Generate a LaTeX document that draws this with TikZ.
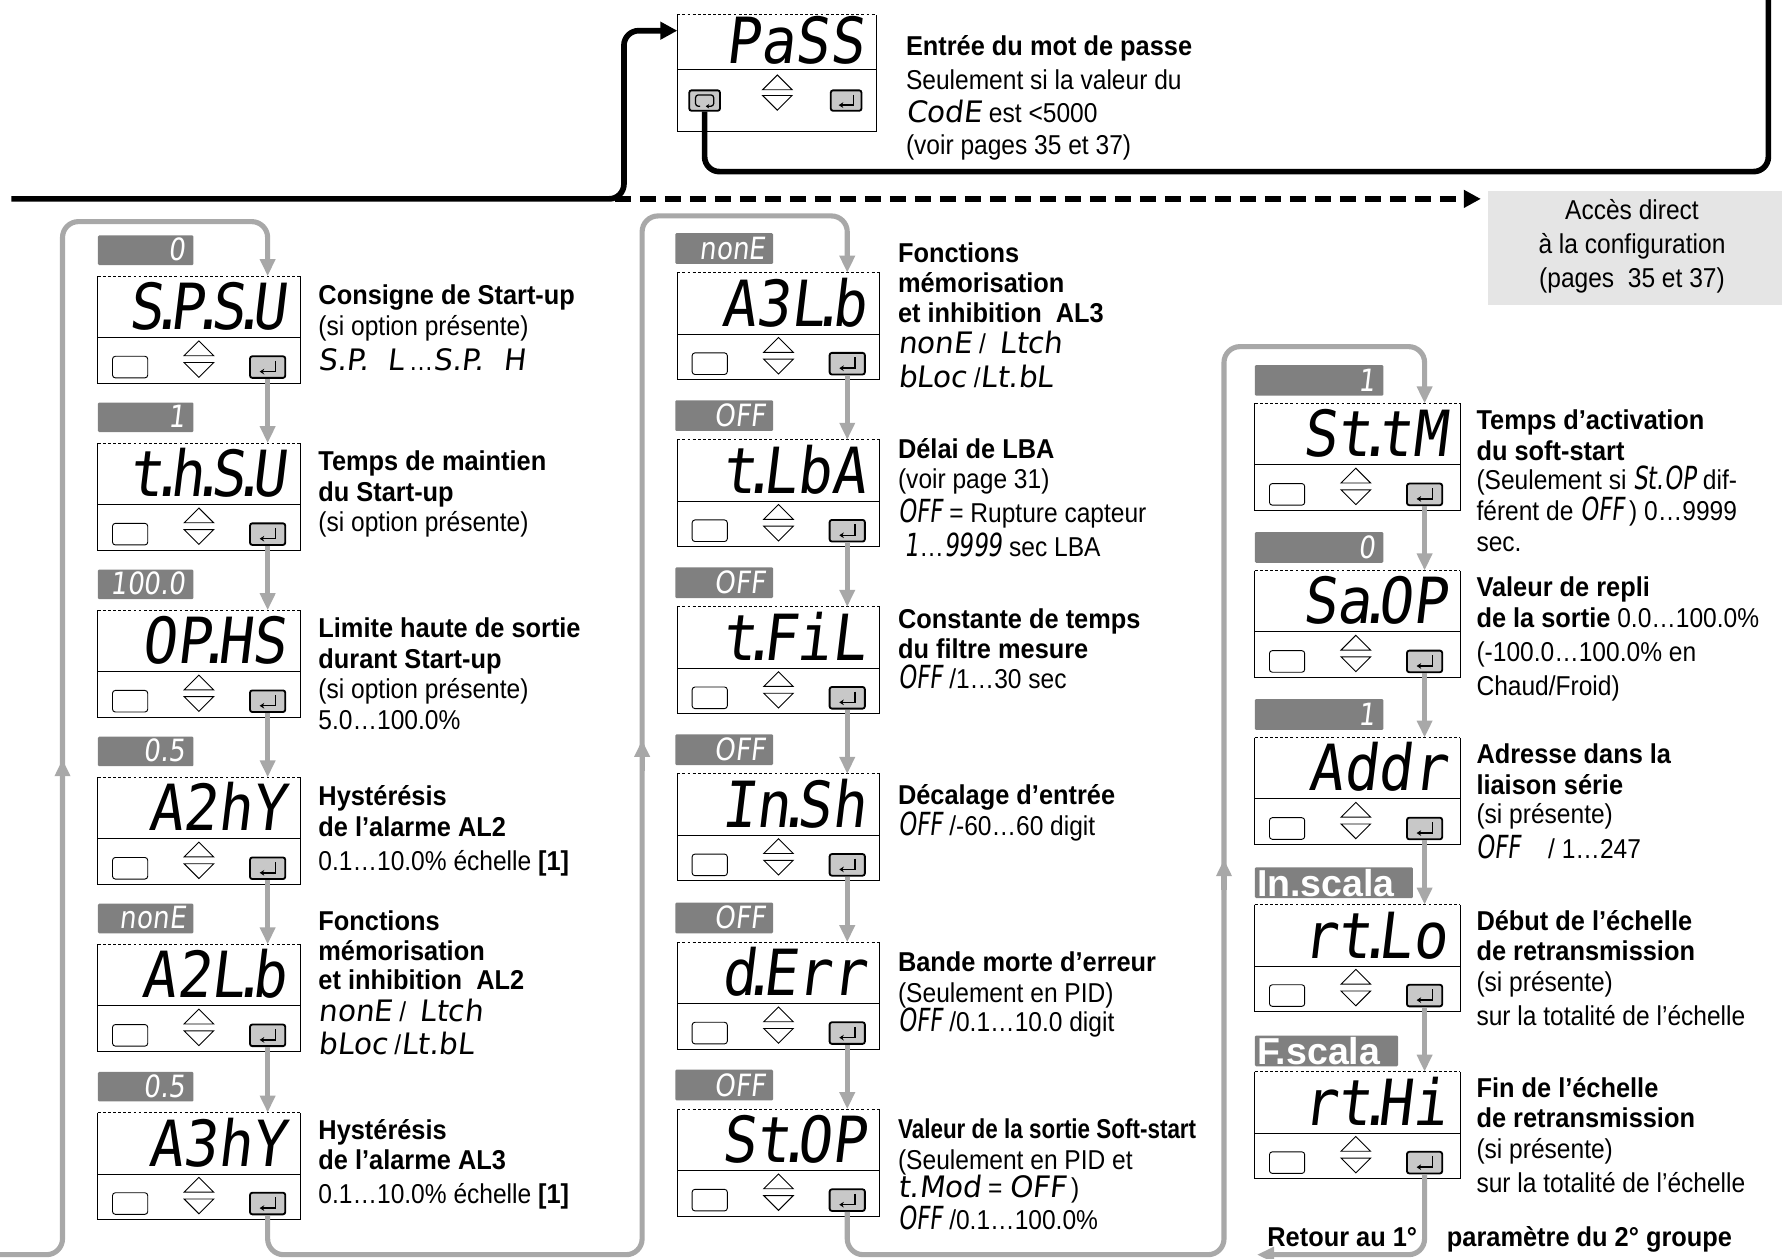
\documentclass[tikz,border=0pt]{standalone}
\usepackage{fontspec}
\usepackage{graphicx}
\setmainfont{Liberation Sans}[FakeStretch=0.9]
\newfontfamily\bdf{Liberation Sans}[FakeStretch=0.93]
\newfontfamily\arb{Liberation Sans}
\newfontfamily\segf{DejaVu Sans Mono}[FakeSlant=0.12,FakeStretch=0.9]
\newfontfamily\segt{DejaVu Sans}[FakeSlant=0.12,FakeStretch=0.85]
\newfontfamily\segn{DejaVu Sans}[FakeSlant=0.12,FakeStretch=0.72]
\newfontfamily\segw{DejaVu Sans}[FakeSlant=0.12]
\usetikzlibrary{arrows.meta,calc}
\definecolor{gl}{RGB}{168,168,168}
\definecolor{tg}{RGB}{128,128,128}
\definecolor{eb}{RGB}{200,200,200}
\definecolor{ab}{RGB}{229,229,229}
\newcommand\sdot{\kern-0.22em.\kern-0.22em}
\newcommand\B[1]{{\bdf\bfseries #1}}
\newcommand\SN[1]{{\segn\fontsize{28}{28}\selectfont #1}}
\newcommand\SW[1]{{\segw\fontsize{26}{26}\selectfont #1}}
\tikzset{
 pline/.style={line width=0.8pt, black},
 ebtn/.style={draw, rounded corners=2pt, minimum width=31pt, minimum height=19pt, inner sep=0pt, line width=1.6pt, fill=eb},
 lbtn/.style={draw, rounded corners=2.5pt, minimum width=31pt, minimum height=19pt, inner sep=0pt, line width=0.8pt, fill=white},
 entsym/.style={line width=1.3pt, -{Stealth[length=4pt,width=5pt]}},
 disp/.style={anchor=base east, inner sep=0pt, font=\segf\fontsize{56}{56}\selectfont},
 tagb/.style={fill=tg, inner sep=0pt, rounded corners=1pt},
 tagt/.style={anchor=base east, inner sep=0pt, text=white, font=\segt\fontsize{27}{27}\selectfont},
 desc/.style={anchor=base west, inner sep=0pt, font=\fontsize{24}{27}\selectfont},
 gc/.style={line width=4.5pt, draw=gl, rounded corners=14pt},
 gar/.style={gc, -{Triangle[length=15pt,width=13pt]}},
 bc/.style={line width=5pt, draw=black, rounded corners=13pt},
 bar/.style={bc, -{Triangle[length=15pt,width=15pt]}},
}
\newcommand\panel[5]{%
\begin{scope}[shift={(#2,#3)}]
\node[inner sep=0pt, minimum width=#4pt, minimum height=94pt, anchor=north west] (#1) at (0,0) {};
\draw[pline] (0,0) -- (0,94) -- (#4,94) -- (#4,0);
\draw[pline, dash pattern=on 2.5pt off 2pt] (0,0) -- (#4,0);
\draw[pline] (0,54) -- (#4,54);
\node[disp] (#1-d) at (#4-12,47) {#5};
\node[lbtn] (#1-l) at (28.5,80) {};
\draw[pline, fill=white] (76,70) -- (89,57) -- (102,70) -- cycle;
\draw[pline, fill=white] (76,76) -- (89,89) -- (102,76) -- cycle;
\node[ebtn] (#1-e) at (149.5,80) {};
\draw[entsym] (156.5,74.5) -- (156.5,84) -- (142.5,84);
\end{scope}}
\newcommand\vtag[6]{%
\node[tagb, minimum width=#4pt, minimum height=#5pt, anchor=north west] (#1) at (#2,#3) {};
\node[tagt] (#1-t) at ($(#1.south east)+(-7,-4)$) {#6};}
\newcommand\dline[4]{\node[desc] (#1) at (#2,#3) {#4};}
\begin{document}
\begin{tikzpicture}[x=1pt,y=-1pt]
\useasboundingbox (0,0) rectangle (1568,1107);
\fill[white] (0,0) rectangle (1568,1107);

% ---------- PASS panel ----------
\begin{scope}[shift={(596,13)}]
\node[inner sep=0pt, minimum width=175pt, minimum height=103pt, anchor=north west] (pass) at (0,0) {};
\draw[pline] (0,0) -- (0,103) -- (175,103) -- (175,0);
\draw[pline, dash pattern=on 2.5pt off 2pt] (0,0) -- (175,0);
\draw[pline] (0,48) -- (175,48);
\node[disp] (pass-d) at (164,43) {PaSS};
\node[ebtn, minimum width=27pt, minimum height=18pt] (pass-l) at (24,75.5) {};
\draw[line width=1.1pt, rounded corners=2.5pt, -{Stealth[length=3pt,width=4pt]}] (20,80.5) -- (16,80.5) -- (16,70.5) -- (32,70.5) -- (32,80.5) -- (25,80.5);
\draw[pline, fill=white] (75,66) -- (88,53) -- (101,66) -- cycle;
\draw[pline, fill=white] (75,71) -- (88,84) -- (101,71) -- cycle;
\node[ebtn, minimum width=27pt, minimum height=18pt] (pass-e) at (148.5,75.5) {};
\draw[entsym] (155,70.5) -- (155,79.5) -- (142,79.5);
\end{scope}
\dline{t1}{797}{49}{\B{Entrée du mot de passe}}
\dline{t2}{797}{79}{Seulement si la valeur du}
\dline{t3}{797}{108}{\SW{CodE} est <5000}
\dline{t4}{797}{136}{(voir pages 35 et 37)}

% ---------- Accès direct ----------
\node[fill=ab, minimum width=259pt, minimum height=100pt, inner sep=0pt, anchor=north west] (acc) at (1309,168) {};
\node[desc, anchor=base] (acc1) at (1436,193) {Accès direct};
\node[desc, anchor=base] (acc2) at (1436,223) {à la configuration};
\node[desc, anchor=base] (acc3) at (1436,253) {(pages\ \ 35 et 37)};

% ---------- black connectors ----------
\coordinate (m0) at (10,175);
\coordinate (tp) at (1556,0);
\draw[bar] (m0) -- (549,175) -- (549,27) -- (pass.north west |- 0,27);
\draw[bar, rounded corners=0pt, dash pattern=on 14pt off 8pt] (541,175) -- ($(acc.north west)+(-6,7)$);
\draw[bc] (pass-l.south) -- (620,151) -- (1556,151) -- (tp);

% ---------- column 1 ----------
\vtag{g11}{86}{207}{84}{26}{0}
\panel{p11}{86}{243}{178}{S\sdot P\sdot S\sdot U}
\vtag{g12}{86}{354}{84}{26}{1}
\panel{p12}{86}{390}{178}{t\sdot h\sdot S\sdot U}
\vtag{g13}{86}{501}{84}{26}{100.0}
\panel{p13}{86}{537}{178}{OP\sdot HS}
\vtag{g14}{86}{648}{84}{26}{0.5}
\panel{p14}{86}{684}{178}{A2hY}
\vtag{g15}{86}{795}{84}{26}{nonE}
\panel{p15}{86}{831}{178}{A2L\sdot b}
\vtag{g16}{86}{943}{84}{26}{0.5}
\panel{p16}{86}{979}{178}{A3hY}

\dline{a1}{280}{268}{\B{Consigne de Start-up}}
\dline{a2}{280}{295}{(si option présente)}
\dline{a3}{280}{326}{\SW{S.P.\ \ L}\,…\SW{S.P.\ \ H}}
\dline{a4}{280}{414}{\B{Temps de maintien}}
\dline{a5}{280}{441}{\B{du Start-up}}
\dline{a6}{280}{468}{(si option présente)}
\dline{a7}{280}{561}{\B{Limite haute de sortie}}
\dline{a8}{280}{588}{\B{durant Start-up}}
\dline{a9}{280}{615}{(si option présente)}
\dline{a10}{280}{642}{5.0…100.0\%}
\dline{a11}{280}{709}{\B{Hystérésis}}
\dline{a12}{280}{736}{\B{de l’alarme AL2}}
\dline{a13}{280}{766}{0.1…10.0\% échelle \B{[1]}}
\dline{a14}{280}{819}{\B{Fonctions}}
\dline{a15}{280}{845}{\B{mémorisation}}
\dline{a16}{280}{871}{\B{et inhibition\ \ AL2}}
\dline{a17}{280}{899}{\SW{nonE}\ /\ \ \SW{Ltch}}
\dline{a18}{280}{928}{\SW{bLoc}\ /\SW{Lt.bL}}
\dline{a19}{280}{1003}{\B{Hystérésis}}
\dline{a20}{280}{1029}{\B{de l’alarme AL3}}
\dline{a21}{280}{1059}{0.1…10.0\% échelle \B{[1]}}

% ---------- column 2 ----------
\vtag{g21}{594}{205}{86}{27}{nonE}
\panel{p21}{596}{240}{178}{A3L\sdot b}
\vtag{g22}{594}{352}{86}{27}{OFF}
\panel{p22}{596}{387}{178}{t\sdot LbA}
\vtag{g23}{594}{499}{86}{27}{OFF}
\panel{p23}{596}{534}{178}{t\sdot FiL}
\vtag{g24}{594}{646}{86}{27}{OFF}
\panel{p24}{596}{681}{178}{In\sdot Sh}
\vtag{g25}{594}{794}{86}{27}{OFF}
\panel{p25}{596}{829}{178}{d\sdot Err}
\vtag{g26}{594}{941}{86}{27}{OFF}
\panel{p26}{596}{976}{178}{St\sdot OP}

\dline{b1}{790}{231}{\B{Fonctions}}
\dline{b2}{790}{257}{\B{mémorisation}}
\dline{b3}{790}{284}{\B{et inhibition\ \ AL3}}
\dline{b4}{790}{311}{\SW{nonE}\ /\ \ \SW{Ltch}}
\dline{b5}{790}{341}{\SW{bLoc}\ /\SW{Lt.bL}}
\dline{b6}{790}{403}{\B{Délai de LBA}}
\dline{b7}{790}{430}{(voir page 31)}
\dline{b8}{790}{460}{\SN{OFF} = Rupture capteur}
\dline{b9}{790}{490}{\ \SN{1}…\SN{9999} sec LBA}
\dline{b10}{790}{553}{\B{Constante de temps}}
\dline{b11}{790}{579}{\B{du filtre mesure}}
\dline{b12}{790}{606}{\SN{OFF} /1…30 sec}
\dline{b13}{790}{708}{\B{Décalage d’entrée}}
\dline{b14}{790}{735}{\SN{OFF} /-60…60 digit}
\dline{b15}{790}{855}{\B{Bande morte d’erreur}}
\dline{b16}{790}{882}{(Seulement en PID)}
\dline{b17}{790}{908}{\SN{OFF} /0.1…10.0 digit}
\dline{b18}{790}{1002}{\B{\scalebox{0.885}[1]{Valeur de la sortie Soft-start}}}
\dline{b19}{790}{1029}{(Seulement en PID et}
\dline{b20}{790}{1054}{\SW{t.Mod} = \SW{OFF}\,)}
\dline{b21}{790}{1082}{\SN{OFF} /0.1…100.0\%}

% ---------- column 3 ----------
\vtag{g31}{1104}{321}{113}{27}{1}
\panel{p31}{1104}{355}{181}{St\sdot tM}
\vtag{g32}{1104}{468}{113}{27}{0}
\panel{p32}{1104}{502}{181}{Sa\sdot OP}
\vtag{g33}{1104}{615}{113}{27}{1}
\panel{p33}{1104}{649}{181}{Addr}
\node[tagb, minimum width=139pt, minimum height=27pt, anchor=north west] (g34) at (1104,763) {};
\node[anchor=base west, inner sep=0pt, text=white, font=\arb\bfseries\fontsize{33}{33}\selectfont] (g34-t) at (1106,789) {In.scala};
\panel{p34}{1104}{796}{181}{rt\sdot Lo}
\node[tagb, minimum width=126pt, minimum height=27pt, anchor=north west] (g35) at (1104,911) {};
\node[anchor=base west, inner sep=0pt, text=white, font=\arb\bfseries\fontsize{33}{33}\selectfont] (g35-t) at (1106,937) {F.scala};
\panel{p35}{1104}{943}{181}{rt\sdot Hi}

\dline{c1}{1299}{378}{\B{Temps d’activation}}
\dline{c2}{1299}{405}{\B{du soft-start}}
\dline{c3}{1299}{431}{(Seulement si \SN{St.OP} dif-}
\dline{c4}{1299}{458}{férent de \SN{OFF}\,) 0…9999}
\dline{c5}{1299}{485}{sec.}
\dline{c6}{1299}{525}{\B{Valeur de repli}}
\dline{c7}{1299}{552}{\B{de la sortie} 0.0…100.0\%}
\dline{c8}{1299}{582}{(-100.0…100.0\% en}
\dline{c9}{1299}{612}{Chaud/Froid)}
\dline{c10}{1299}{672}{\B{Adresse dans la}}
\dline{c11}{1299}{699}{\B{liaison série}}
\dline{c12}{1299}{725}{(si présente)}
\dline{c13}{1299}{755}{\SN{OFF}\quad / 1…247}
\dline{c14}{1299}{819}{\B{Début de l’échelle}}
\dline{c15}{1299}{845}{\B{de retransmission}}
\dline{c16}{1299}{872}{(si présente)}
\dline{c17}{1299}{902}{sur la totalité de l’échelle}
\dline{c18}{1299}{966}{\B{Fin de l’échelle}}
\dline{c19}{1299}{992}{\B{de retransmission}}
\dline{c20}{1299}{1019}{(si présente)}
\dline{c21}{1299}{1049}{sur la totalité de l’échelle}
\dline{r1}{1115}{1097}{\B{Retour au 1°}}
\dline{r2}{1273}{1097}{\B{paramètre du 2° groupe}}

% ---------- grey connectors ----------
\foreach \a/\b in {p11/p12,p12/p13,p13/p14,p14/p15,p15/p16,p21/p22,p22/p23,p23/p24,p24/p25,p25/p26,p31/p32,p32/p33,p33/p34,p34/p35}
  \draw[gar] (\a-e.south) -- (\a-e.south |- \b.north);
\coordinate (in0) at (0,1104);
\coordinate (ret) at (1106,1104);
\draw[gar] (in0) -- (55,1104) -- (55,195) -- (235.5,195) -- (p11-e.south |- p11.north);
\draw[gar] (p16-e.south) -- (235.5,1104) -- (565,1104) -- (565,190) -- (745.5,190) -- (p21-e.south |- p21.north);
\draw[gar] (p26-e.south) -- (745.5,1104) -- (1077,1104) -- (1077,305) -- (1253.5,305) -- (p31-e.south |- p31.north);
\draw[gar] (p35-e.south) -- (1253.5,1104) -- (ret);
\draw[gar] (55,695) -- (55,668);
\draw[gar] (565,678) -- (565,651);
\draw[gar] (1077,783) -- (1077,756);
\end{tikzpicture}
\end{document}
